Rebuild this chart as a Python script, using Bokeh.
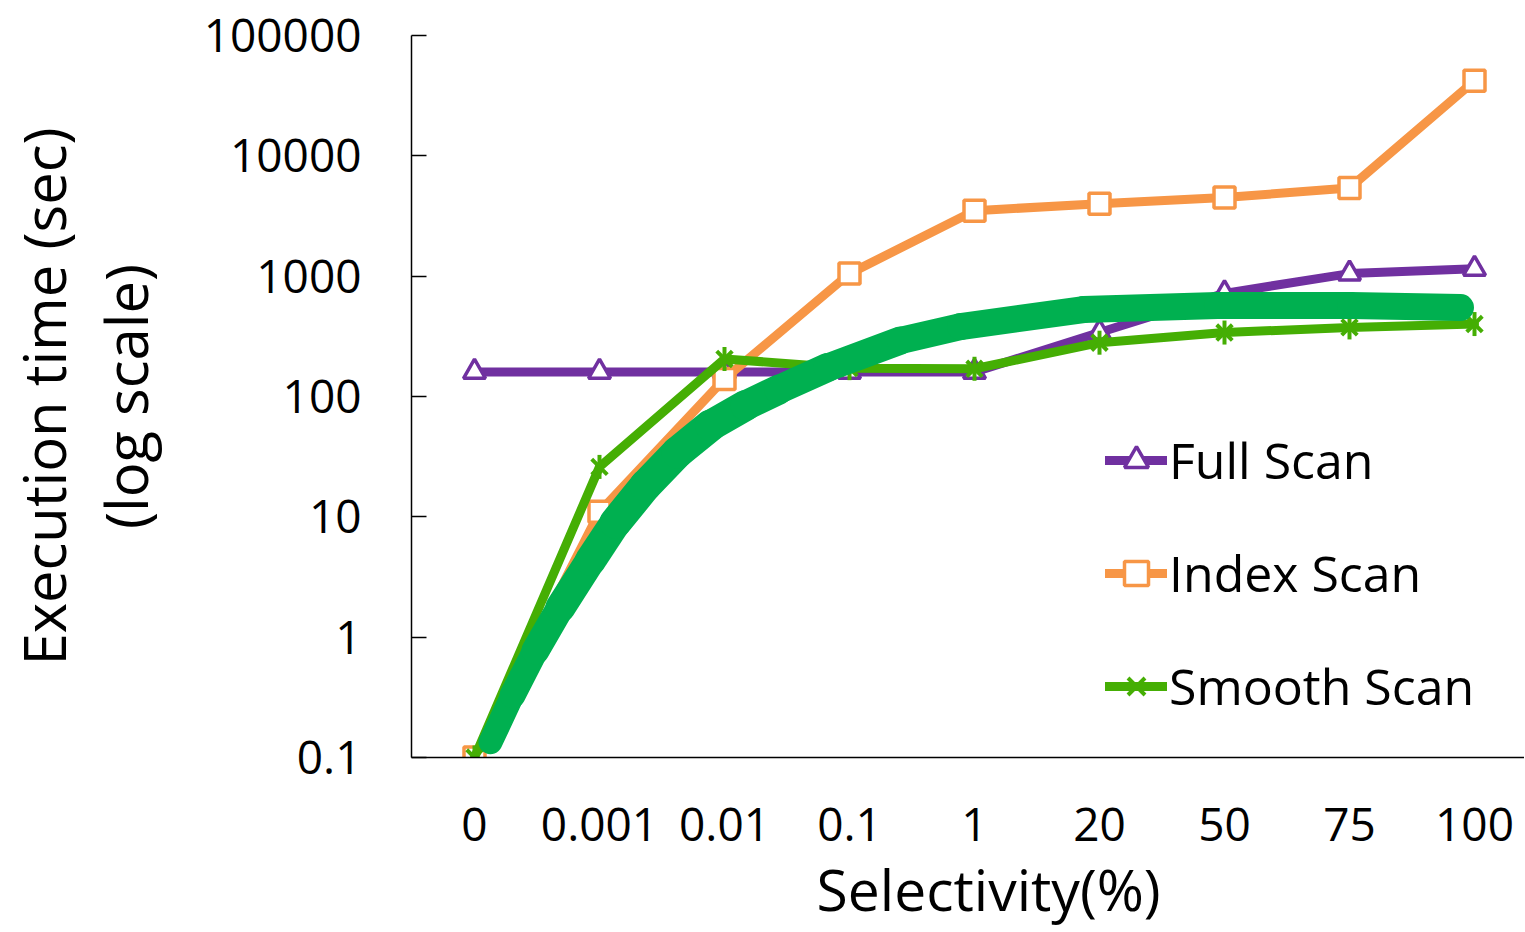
import math
from bokeh.plotting import figure
from bokeh.models import FixedTicker, Legend, LegendItem, Title, Range1d
from bokeh.embed import file_html
from bokeh.resources import INLINE

# ---------------- data ----------------
categories = ["0", "0.001", "0.01", "0.1", "1", "20", "50", "75", "100"]
cat_pos = list(range(len(categories)))
full_scan = [160, 160, 160, 160, 160, 340, 720, 1050, 1150]
index_scan = [0.1, 11, 140, 1050, 3500, 4000, 4500, 5400, 42000]
smooth_scan = [0.1, 26, 205, 172, 170, 280, 340, 375, 400]

# thick hand-drawn curve (x as fractional category position)
curve_x = [0.128, 0.304, 0.488, 0.688, 0.928, 1.128, 1.368, 1.624, 1.888,
           2.168, 2.432, 2.824, 3.408, 3.888, 4.872, 5.944, 7.008, 7.888]
curve_y = [0.134, 0.329, 0.776, 1.77, 4.35, 8.97, 18.2, 34.3, 57.4,
           84.1, 114, 174, 292, 381, 528, 570, 570, 548]
# stroke width of each piece of the thick curve (it tapers)
curve_w = [24, 26, 28, 30, 31, 32, 32, 32, 31, 30, 29, 28, 27, 27, 27, 27, 27]

y_ticks = [0.1, 1, 10, 100, 1000, 10000, 100000]
y_tick_labels = ["0.1", "1", "10", "100", "1000", "10000", "100000"]

# ---------------- style ----------------
FONT = "Open Sans"
PURPLE = "#7030A0"
ORANGE = "#F79646"
GREEN = "#45AE04"
THICK = "#00B050"

W, H = 1524, 932
p = figure(width=W, height=H, title=None,
           x_range=Range1d(-0.504, -0.504 + (W - 411) / 125.0),
           y_range=Range1d(0.1, 100000),
           y_axis_type="log", output_backend="svg", toolbar_location=None,
           min_border_left=411, min_border_right=0, min_border_top=35,
           min_border_bottom=H - 757)
p.outline_line_color = None
p.xgrid.visible = False
p.ygrid.visible = False
p.background_fill_color = "white"
p.border_fill_color = "white"

# x axis
xa = p.xaxis[0]
xa.ticker = FixedTicker(ticks=cat_pos)
xa.major_label_overrides = {i: c for i, c in zip(cat_pos, categories)}
xa.major_tick_in = 0
xa.major_tick_out = 0
xa.minor_tick_in = 0
xa.minor_tick_out = 0
xa.axis_line_color = "black"
xa.axis_line_width = 1.5
xa.major_label_text_font = FONT
xa.major_label_text_font_size = "46px"
xa.major_label_text_color = "black"
xa.major_label_standoff = 50

# y axis
ya = p.yaxis[0]
ya.ticker = FixedTicker(ticks=y_ticks)
ya.major_label_overrides = {t: l for t, l in zip(y_ticks, y_tick_labels)}
ya.major_tick_in = 15
ya.major_tick_out = 0
ya.minor_tick_in = 0
ya.minor_tick_out = 0
ya.axis_line_color = "black"
ya.axis_line_width = 1.5
ya.major_tick_line_color = "black"
ya.major_tick_line_width = 1.5
ya.major_label_text_font = FONT
ya.major_label_text_font_size = "46px"
ya.major_label_text_color = "black"
ya.major_label_standoff = 50
ya.axis_label = "Execution time (sec)\n(log scale)"
ya.axis_label_text_font = FONT
ya.axis_label_text_font_size = "58px"
ya.axis_label_text_font_style = "normal"
ya.axis_label_text_color = "black"
ya.axis_label_text_line_height = 1.04
ya.axis_label_standoff = 36

# x axis title
xt = Title(text="Selectivity(%)", align="left", offset=405,
           text_font=FONT, text_font_size="57px", text_font_style="normal",
           text_color="black", standoff=8)
p.add_layout(xt, "below")

# ---------------- series ----------------
r_full_l = p.line(cat_pos, full_scan, line_color=PURPLE, line_width=9,
                  line_join="round", line_cap="round")
r_full_m = p.scatter(cat_pos, full_scan, marker="triangle", size=22,
                     fill_color="white", line_color=PURPLE, line_width=3.5)

r_idx_l = p.line(cat_pos, index_scan, line_color=ORANGE, line_width=9,
                 line_join="round", line_cap="round")
r_idx_m = p.scatter(cat_pos, index_scan, marker="square", size=21,
                    fill_color="white", line_color=ORANGE, line_width=3.5)

r_sm_l = p.line(cat_pos, smooth_scan, line_color=GREEN, line_width=9,
                line_join="round", line_cap="round")
r_sm_x = p.scatter(cat_pos, smooth_scan, marker="x", size=22,
                   line_color=GREEN, line_width=4)
r_sm_d = p.scatter(cat_pos, smooth_scan, marker="dash", size=24,
                   angle=math.pi / 2, line_color=GREEN, line_width=4)

# thick tapered curve on top, drawn piece by piece
p.segment(x0=curve_x[:-1], y0=curve_y[:-1], x1=curve_x[1:], y1=curve_y[1:],
          line_width=curve_w, line_color=THICK, line_cap="round")

legend = Legend(items=[
    LegendItem(label="Full Scan", renderers=[r_full_l, r_full_m]),
    LegendItem(label="Index Scan", renderers=[r_idx_l, r_idx_m]),
    LegendItem(label="Smooth Scan", renderers=[r_sm_l, r_sm_x, r_sm_d]),
], location=(694, 37))
legend.label_text_font = FONT
legend.label_text_font_size = "50px"
legend.label_text_color = "black"
legend.glyph_width = 62
legend.glyph_height = 60
legend.label_height = 60
legend.label_standoff = 2
legend.spacing = 45
legend.padding = 0
legend.margin = 0
legend.border_line_color = None
legend.background_fill_alpha = 0
p.add_layout(legend, "center")

open("out.html", "w").write(file_html(p, INLINE))
